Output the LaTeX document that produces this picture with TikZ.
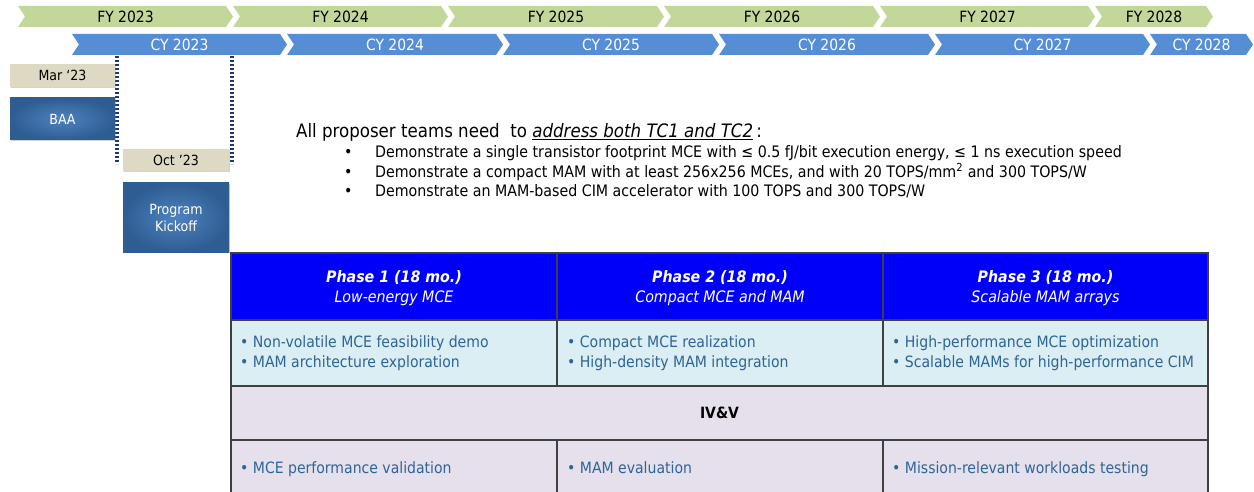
\documentclass[tikz,border=0pt]{standalone}
\usepackage{fontspec}
\setmainfont{DejaVu Sans Condensed}[
  BoldFont={DejaVu Sans Condensed Bold},
  ItalicFont={DejaVu Sans Condensed Oblique},
  BoldItalicFont={DejaVu Sans Condensed Bold Oblique}]
\usetikzlibrary{calc, positioning}
\usetikzlibrary{shadows}

\definecolor{fygreen}{RGB}{196,215,155}
\definecolor{cyblue}{RGB}{85,142,213}
\definecolor{tagbeige}{RGB}{221,217,195}
\definecolor{boxlight}{RGB}{78,130,192}
\definecolor{boxdark}{RGB}{46,93,146}
\definecolor{dotnavy}{RGB}{31,56,110}
\definecolor{hdrblue}{RGB}{0,0,250}
\definecolor{celllight}{RGB}{218,238,243}
\definecolor{celllav}{RGB}{229,224,236}
\definecolor{celltext}{RGB}{46,100,150}
\definecolor{gridgray}{RGB}{64,64,64}

\begin{document}
\begin{tikzpicture}[x=1pt, y=-1pt,
  bartext/.style={font=\fontsize{15.5}{18}\selectfont},
  tag/.style={fill=tagbeige, minimum width=105pt, minimum height=23pt, inner sep=0pt,
    font=\fontsize{14}{17}\selectfont,
    drop shadow={opacity=0.35, shadow xshift=1.2pt, shadow yshift=-1.2pt}},
  mile/.style={shading=radial, inner color=boxlight, outer color=boxdark,
    minimum width=105pt, inner sep=0pt, text=white, align=center,
    font=\fontsize{14}{17}\selectfont,
    drop shadow={opacity=0.35, shadow xshift=1.2pt, shadow yshift=-1.2pt}},
  msline/.style={dotnavy, line width=3.2pt, dash pattern=on 2.4pt off 1.6pt},
  item/.style={anchor=west, inner sep=0pt, font=\fontsize{15.8}{18}\selectfont},
  grid/.style={gridgray, line width=1.4pt},
  phasehead/.style={text=white, align=center, font=\fontsize{15.8}{20}\selectfont},
  celltxt/.style={anchor=west, align=left, text=celltext, inner sep=0pt,
    font=\fontsize{15.6}{20}\selectfont}]
\useasboundingbox (0,0) rectangle (1254,492);

% fiscal and calendar years
\foreach \a/\b/\yr in {18/233/2023, 233/448/2024, 448/664/2025, 664/880/2026, 880/1095/2027, 1095/1213/2028}{
  \fill[fygreen] (\a,6) -- (\b-7,6) -- (\b,16.5) -- (\b-7,27) -- (\a,27) -- (\a+7,16.5) -- cycle;
  \node[bartext] (fy\yr) at ({(\a+\b)/2},16.5) {FY \yr};
}
\foreach \a/\b/\yr in {72/287/2023, 287/503/2024, 503/719/2025, 719/935/2026, 935/1150/2027, 1150/1253/2028}{
  \fill[cyblue] (\a,34) -- (\b-7,34) -- (\b,44.5) -- (\b-7,55) -- (\a,55) -- (\a+7,44.5) -- cycle;
  \node[bartext, text=white] (cy\yr) at ({(\a+\b)/2},44.5) {CY \yr};
}

% milestones
\coordinate (m1top) at (117,56);
\coordinate (m1bot) at (117,164);
\coordinate (m2top) at (232,56);
\coordinate (m2bot) at (232,164);
\draw[msline] (m1top) -- (m1bot);
\draw[msline] (m2top) -- (m2bot);

\node[tag] (mar) at (62.5,75.5) {Mar ‘23};
\node[mile, minimum height=42pt] (baa) at (62.5,119) {BAA};
\node[tag, minimum width=106pt, minimum height=22pt] (oct) at (176,160) {Oct ’23};
\node[mile, minimum width=106pt, minimum height=69pt] (kickoff) at (176,217.5) {Program\\Kickoff};

% program goals
\node[anchor=west, inner sep=0pt, font=\fontsize{18.5}{20}\selectfont] (intro) at (296,132)
  {All proposer teams need\ \ to \underline{\textit{address both TC1 and TC2}}\,:};
\node[item] (goal1) at (344,153) {\makebox[31pt][l]{•}Demonstrate a single transistor footprint MCE with ≤ 0.5 fJ/bit execution energy, ≤ 1 ns execution speed};
\node[item] (goal2) at (344,172) {\makebox[31pt][l]{•}Demonstrate a compact MAM with at least 256x256 MCEs, and with 20 TOPS/mm\textsuperscript{2} and 300 TOPS/W};
\node[item] (goal3) at (344,191) {\makebox[31pt][l]{•}Demonstrate an MAM-based CIM accelerator with 100 TOPS and 300 TOPS/W};

% phase table
\def\tl{231}
\def\tr{1208}
\def\ca{557}
\def\cb{883}
\def\ra{253}
\def\rb{320}
\def\rc{386}
\def\rd{440}
\def\re{496}
\fill[hdrblue] (\tl,\ra) rectangle (\tr,\rb);
\fill[celllight] (\tl,\rb) rectangle (\tr,\rc);
\fill[celllav] (\tl,\rc) rectangle (\tr,\re);
\draw[grid] (\tl,\re) -- (\tl,\ra) -- (\tr,\ra) -- (\tr,\re);
\draw[grid] (\tl,\rb) -- (\tr,\rb) (\tl,\rc) -- (\tr,\rc) (\tl,\rd) -- (\tr,\rd);
\draw[grid] (\ca,\ra) -- (\ca,\rc) (\cb,\ra) -- (\cb,\rc);
\draw[grid] (\ca,\rd) -- (\ca,\re) (\cb,\rd) -- (\cb,\re);

\node[phasehead] (ph1) at (394,288) {\textbf{\textit{Phase 1 (18 mo.)}}\\\textit{Low-energy MCE}};
\node[phasehead] (ph2) at (720,288) {\textbf{\textit{Phase 2 (18 mo.)}}\\\textit{Compact MCE and MAM}};
\node[phasehead] (ph3) at (1045.5,288) {\textbf{\textit{Phase 3 (18 mo.)}}\\\textit{Scalable MAM arrays}};

\node[celltxt] (work1) at (240,353.5) {• Non-volatile MCE feasibility demo\\• MAM architecture exploration};
\node[celltxt] (work2) at (567,353.5) {• Compact MCE realization\\• High-density MAM integration};
\node[celltxt] (work3) at (892,353.5) {• High-performance MCE optimization\\• Scalable MAMs for high-performance CIM};

\node[font=\fontsize{15.5}{18}\selectfont\bfseries] (ivv) at (719.5,413) {IV\&V};

\node[celltxt, anchor=base west] (test1) at (240,473.5) {• MCE performance validation};
\node[celltxt, anchor=base west] (test2) at (567,473.5) {• MAM evaluation};
\node[celltxt, anchor=base west] (test3) at (892,473.5) {• Mission-relevant workloads testing};
\end{tikzpicture}
\end{document}
